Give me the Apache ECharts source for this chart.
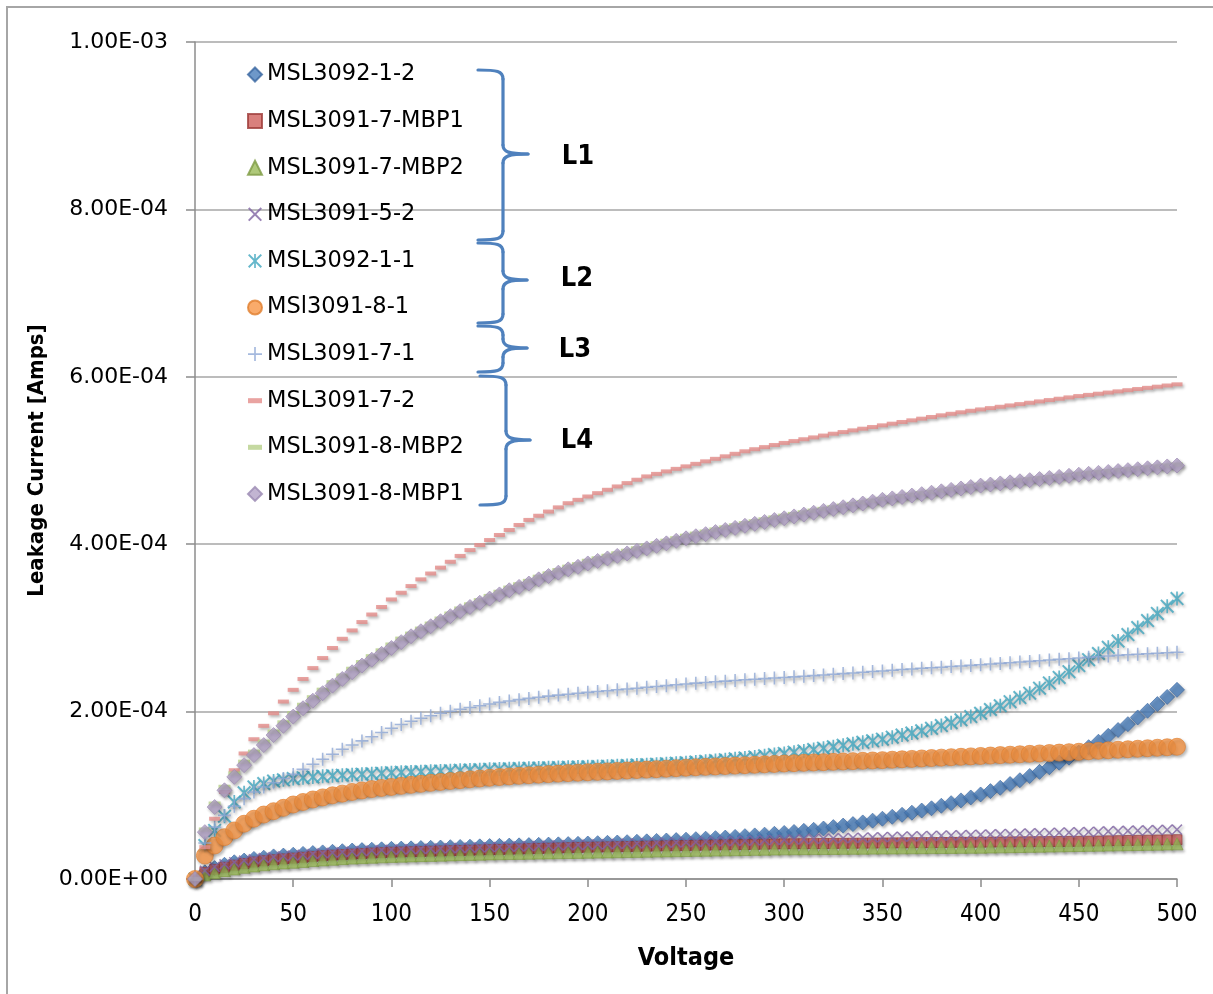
<!DOCTYPE html>
<html><head><meta charset="utf-8">
<script src="https://cdn.jsdelivr.net/npm/echarts@6/dist/echarts.min.js"></script>
<style>html,body{margin:0;padding:0;background:#fff}#c{width:1213px;height:994px}</style>
</head><body><div id="c"></div>
<script>
// Voltage (V)
const voltage = [0,5,10,15,20,25,30,35,40,45,50,55,60,65,70,75,80,85,90,95,100,
105,110,115,120,125,130,135,140,145,150,155,160,165,170,175,180,185,190,195,200,
205,210,215,220,225,230,235,240,245,250,255,260,265,270,275,280,285,290,295,300,
305,310,315,320,325,330,335,340,345,350,355,360,365,370,375,380,385,390,395,400,
405,410,415,420,425,430,435,440,445,450,455,460,465,470,475,480,485,490,495,500];

// Leakage current values in microamps (uA)
const msl3092_1_2 = [0,8,13,17,20,22,24,25.5,27,28,29,30,31,31.8,32.5,33.2,34,34.5,35,35.5,36,
36.3,36.6,37,37.3,37.6,38,38.3,38.6,39,39.3,
39.6,39.9,40.2,40.5,40.8,41.1,41.4,41.7,42,42.4,
42.8,43.2,43.6,44,44.5,45,45.5,46,46.5,47,
47.6,48.2,48.8,49.5,50.3,51.2,52.1,53,54,55,
56.2,57.5,58.8,60.3,62,63.8,65.6,67.6,69.7,72,
74.3,76.7,79.2,81.8,84.5,87.5,90.6,93.9,97.4,101,
105,109,113.5,118,123,128,133.5,139,145,151,
157.5,164,171,178,185,193,201,209,217.5,226];

const msl3091_7_mbp1 = [0,8,11.5,14,16.5,18.5,20.3,21.8,23,24,25,26,27,27.8,28.5,29.2,29.8,30.4,31,31.5,32,
32.3,32.6,32.9,33.2,33.5,33.8,34.1,34.4,34.7,35,
35.3,35.6,35.9,36.2,36.5,36.8,37.1,37.4,37.7,38,
38.2,38.4,38.6,38.8,39,39.2,39.4,39.6,39.8,40,
40.2,40.4,40.6,40.8,41,41.2,41.4,41.6,41.8,42,
42.1,42.2,42.3,42.4,42.5,42.6,42.7,42.8,42.9,43,
43.1,43.2,43.3,43.4,43.5,43.6,43.7,43.8,43.9,44,
44.1,44.2,44.3,44.4,44.5,44.6,44.7,44.8,44.9,45,
45.2,45.4,45.6,45.8,46,46.2,46.4,46.6,46.8,47];

const msl3091_7_mbp2 = [0,5,7.5,10,12,14,15.6,17,18.2,19.2,20,21,22,22.8,23.6,24.3,25,25.5,26,26.5,27,
27.3,27.6,27.9,28.2,28.5,28.8,29.1,29.4,29.7,30,
30.2,30.4,30.6,30.8,31,31.2,31.4,31.6,31.8,32,
32.2,32.4,32.6,32.8,33,33.2,33.4,33.6,33.8,34,
34.2,34.4,34.6,34.8,35,35.2,35.4,35.6,35.8,36,
36.1,36.2,36.3,36.4,36.5,36.6,36.7,36.8,36.9,37,
37.1,37.2,37.3,37.4,37.5,37.6,37.7,37.8,37.9,38,
38.2,38.4,38.6,38.8,39,39.2,39.4,39.6,39.8,40,
40.2,40.4,40.6,40.8,41,41.2,41.4,41.6,41.8,42];

const msl3091_5_2 = [0,10,14.5,17.5,20,22,23.7,25,26.2,27.2,28,29,29.9,30.7,31.4,32.1,32.8,33.4,34,34.5,35,
35.3,35.6,35.9,36.2,36.5,36.8,37.1,37.4,37.7,38,
38.3,38.6,38.9,39.2,39.5,39.8,40.1,40.4,40.7,41,
41.3,41.6,41.9,42.2,42.5,42.8,43.1,43.4,43.7,44,
44.3,44.6,44.9,45.2,45.5,45.8,46.1,46.4,46.7,47,
47.3,47.6,47.9,48.2,48.5,48.8,49.1,49.4,49.7,50,
50.3,50.6,50.9,51.2,51.5,51.8,52.1,52.4,52.7,53,
53.3,53.6,53.9,54.2,54.5,54.8,55.1,55.4,55.7,56,
56.3,56.6,56.9,57.2,57.5,57.8,58.1,58.4,58.7,59];

const msl3092_1_1 = [0,40,58,75,92,103,110,114,117,118.5,120,121,122,122.7,123.4,124,124.6,125.2,125.8,126.4,127,
127.4,127.8,128.2,128.6,129,129.4,129.8,130.2,130.6,131,
131.3,131.6,131.9,132.2,132.5,132.8,133.1,133.4,133.7,134,
134.4,134.8,135.2,135.6,136.1,136.6,137.2,137.8,138.4,139,
139.8,140.7,141.6,142.6,143.6,144.7,145.9,147.2,148.6,150,
151.5,153,154.6,156.3,158,159.7,161.5,163.3,165.1,167,
169.4,171.9,174.4,177.1,180,183.3,186.7,190.2,194,198,
202.5,207,211.8,216.8,222,228,234.3,240.8,247.7,255,
262,269.4,276.8,284.3,292,300.4,308.8,317.3,326,335];

const msl3091_8_1 = [0,28,40,50,58,66,72,77,81,85,89,92,95,97.5,100,102,104,105.8,107.4,108.8,110,
111.3,112.5,113.7,114.9,116,117.1,118.1,119.1,120.1,121,
121.8,122.6,123.3,124,124.7,125.3,125.9,126.5,127,127.5,
128,128.5,129.1,129.6,130.2,130.7,131.2,131.8,132.4,133,
133.5,134,134.5,135,135.5,136,136.5,137,137.5,138,
138.4,138.8,139.2,139.6,140,140.4,140.8,141.2,141.6,142,
142.5,143,143.5,144,144.5,145,145.5,146,146.5,147,
147.5,148,148.5,149,149.5,150,150.5,151,151.5,152,
152.6,153.2,153.8,154.4,155,155.6,156.2,156.8,157.4,158];

const msl3091_7_1 = [0,43,62,76,87,96,104,110,115,120,125,131,137,143,149,155,160,165,170,175,180,
184.5,188.5,192,195,198,200.5,202.8,205,207,209,
211,212.7,214.3,215.8,217.2,218.5,219.7,220.8,221.9,223,
224,225,226,227,228,229,230,231,232,233,
234,234.8,235.6,236.4,237.2,238,238.7,239.4,240.1,240.8,
241.5,242.2,243,243.8,244.6,245.4,246.2,247,247.8,248.6,
249.4,250.2,251,251.7,252.4,253.1,253.8,254.5,255.2,256,
256.8,257.6,258.4,259.2,260,260.8,261.6,262.4,263.2,264,
264.8,265.6,266.4,267.2,268,268.6,269.2,269.8,270.4,271];

const msl3091_7_2 = [0,38,72,104,130,150,167,183,198,212,226,239,252,264,276,287,297,307,316,325,334,
342,350,358,365,372,379,386,393,399,405,
411,417,423,429,434,439,444,449,453,457,
461,465,469,473,477,481,484,487,490,493,
496,499,502,505,508,511,513.5,516,518.5,521,
523.2,525.4,527.6,529.8,532,534,536,538,540,542,
544,546,548,550,552,554,555.8,557.6,559.4,561,
562.6,564.2,565.8,567.4,569,570.6,572.2,573.8,575.4,577,
578.4,579.8,581.2,582.6,584,585.4,586.8,588.2,589.6,591];

const msl3091_8_mbp2 = [0,59,90,110,126,140,152,164,176,187,198,208,217,226,235,243,251,259,266,273,280,
287,293,299,305,311,317,323,328,333,338,
343,348,352,356,361,365,369,373,376,380,
383,386,389,392,395,398,401,404,407,410,
412.5,415,417.5,420,422.5,425,427.3,429.6,431.9,434,
436,438,440,442,444,446,448,450,452,454,
455.7,457.4,459.1,460.8,462.5,464.2,465.9,467.6,469.3,471,
472.3,473.6,474.9,476.2,477.5,478.8,480.1,481.4,482.7,484,
485.1,486.2,487.3,488.4,489.5,490.6,491.7,492.8,493.9,495];

const msl3091_8_mbp1 = [0,56,86,106,122,136,148,160,172,183,194,204,213,222,231,239,247,255,262,269,276,
283,290,296,302,308,314,320,325,330,335,
340,345,349,353,358,362,366,370,373,377,
380,383,386,389,392,395,398,401,404,407,
409.5,412,414.5,417,419.5,422,424.3,426.6,428.9,431,
433.2,435.4,437.6,439.8,442,444.2,446.4,448.6,450.8,453,
454.7,456.4,458.1,459.8,461.5,463.2,464.9,466.6,468.3,470,
471.3,472.6,473.9,475.2,476.5,477.8,479.1,480.4,481.7,483,
484.1,485.2,486.3,487.4,488.5,489.6,490.7,491.8,492.9,494];

const seriesNames = ['MSL3092-1-2','MSL3091-7-MBP1','MSL3091-7-MBP2','MSL3091-5-2','MSL3092-1-1',
  'MSl3091-8-1','MSL3091-7-1','MSL3091-7-2','MSL3091-8-MBP2','MSL3091-8-MBP1'];
const seriesValues = [msl3092_1_2, msl3091_7_mbp1, msl3091_7_mbp2, msl3091_5_2, msl3092_1_1,
  msl3091_8_1, msl3091_7_1, msl3091_7_2, msl3091_8_mbp2, msl3091_8_mbp1];
const groupLabels = ['L1','L2','L3','L4'];
const xAxisTitle = 'Voltage';
const yAxisTitle = 'Leakage Current [Amps]';

// marker styling
const X_PATH = 'path://M0,1L1,0L5,4L9,0L10,1L6,5L10,9L9,10L5,6L1,10L0,9L4,5Z';
const AST_PATH = 'path://M0,1L1,0L5,4L9,0L10,1L6,5L10,9L9,10L5,6L1,10L0,9L4,5Z M4.4,0L5.6,0L5.6,4L4.4,4Z M4.4,6L5.6,6L5.6,10L4.4,10Z';
const PLUS_PATH = 'path://M4.4,0L5.6,0L5.6,4.4L10,4.4L10,5.6L5.6,5.6L5.6,10L4.4,10L4.4,5.6L0,5.6L0,4.4L4.4,4.4Z';
const DASH_PATH = 'path://M0,0M0,3.2L10,3.2L10,6.8L0,6.8Z M10,10';
const styles = [
  {symbol:'diamond', size:15, color:'#4A7EBB', border:'#3A67A0'},
  {symbol:'rect', size:10, color:'#D0605C', border:'#9E3B38'},
  {symbol:'triangle', size:12, color:'#9BBB59', border:'#7E9B44'},
  {symbol:X_PATH, size:11, color:'#8064A2', border:null},
  {symbol:AST_PATH, size:14, color:'#3FA5BE', border:null},
  {symbol:'circle', size:17, color:'#F79646', border:'#E07E2E'},
  {symbol:PLUS_PATH, size:13, color:'#8EA8D6', border:null},
  {symbol:DASH_PATH, size:11, color:'#E38C89', border:null},
  {symbol:DASH_PATH, size:12, color:'#B7D08A', border:null},
  {symbol:'diamond', size:15, color:'#B3A2C7', border:'#9A88B2'}
];

function sci(v){
  const a = v * 1e-6;
  if (Math.abs(a) < 1e-15) return '0.00E+00';
  const s = a.toExponential(2);
  const parts = s.split('e');
  const sign = parts[1][0] === '-' ? '-' : '+';
  let d = parts[1].replace(/[+-]/,'');
  if (d.length < 2) d = '0' + d;
  return parts[0] + 'E' + sign + d;
}

const series = seriesNames.map((name, i) => ({
  name: name,
  type: 'scatter',
  data: voltage.map((v, k) => [v, seriesValues[i][k]]),
  symbol: styles[i].symbol,
  symbolSize: styles[i].size,
  itemStyle: {
    color: styles[i].color,
    borderColor: styles[i].border || styles[i].color,
    borderWidth: styles[i].border ? 0.8 : 0,
    shadowBlur: 3,
    shadowColor: 'rgba(0,0,0,0.35)',
    shadowOffsetX: 1.5,
    shadowOffsetY: 2
  },
  emphasis: {disabled: true},
  z: 2 + i
}));

// curly brace annotations built from bezier curves and lines
const braceStyle = {fill:null, stroke:'#4F81BD', lineWidth:3.2, lineCap:'round'};
function braceParts(tipX, spineX, pointX, yTop, yMid, yBot){
  const r = 9;
  return [
    {type:'bezierCurve', shape:{x1:tipX, y1:yTop, cpx1:spineX-6, cpy1:yTop, cpx2:spineX, cpy2:yTop+1, x2:spineX, y2:yTop+r}, style:braceStyle, z:50},
    {type:'line', shape:{x1:spineX, y1:yTop+r, x2:spineX, y2:yMid-r}, style:braceStyle, z:50},
    {type:'bezierCurve', shape:{x1:spineX, y1:yMid-r, cpx1:spineX, cpy1:yMid-2, cpx2:spineX+6, cpy2:yMid, x2:pointX, y2:yMid}, style:braceStyle, z:50},
    {type:'bezierCurve', shape:{x1:pointX, y1:yMid, cpx1:spineX+6, cpy1:yMid, cpx2:spineX, cpy2:yMid+2, x2:spineX, y2:yMid+r}, style:braceStyle, z:50},
    {type:'line', shape:{x1:spineX, y1:yMid+r, x2:spineX, y2:yBot-r}, style:braceStyle, z:50},
    {type:'bezierCurve', shape:{x1:spineX, y1:yBot-r, cpx1:spineX, cpy1:yBot-1, cpx2:spineX-6, cpy2:yBot, x2:tipX, y2:yBot}, style:braceStyle, z:50}
  ];
}
const braceDefs = [
  [478, 503, 528, 70, 154, 240],
  [478, 503, 527, 243, 280, 323],
  [478, 503, 527, 326, 348, 372],
  [480, 506, 530, 376, 440, 505]
];
const labelPos = [[578,157],[577,279],[575,350],[577,441]];

const graphics = [
  {type:'rect', shape:{x:7, y:7, width:1240, height:1020}, style:{fill:null, stroke:'#A6A6A6', lineWidth:2}, z:0, silent:true}
];
braceDefs.forEach((b, i) => {
  braceParts(b[0],b[1],b[2],b[3],b[4],b[5]).forEach(p => graphics.push(p));
  graphics.push({type:'text', x: labelPos[i][0], y: labelPos[i][1],
    style:{text: groupLabels[i], fill:'#000', font:'bold 27px "DejaVu Sans Condensed","Liberation Sans",sans-serif',
      textAlign:'center', textVerticalAlign:'middle'}, z:50});
});

const COND = '"DejaVu Sans Condensed","Liberation Sans",sans-serif';
const chart = echarts.init(document.getElementById('c'), null, {renderer:'canvas'});
chart.setOption({
  animation: false,
  backgroundColor: '#fff',
  grid: {left:195, right:36, top:42, bottom:115, containLabel:false, outerBoundsMode:'none'},
  legend: {
    orient: 'vertical', left: 242, top: 58,
    itemWidth: 14, itemHeight: 14, itemGap: 23.6,
    data: seriesNames.map((n, i) => ({name: n, icon: styles[i].symbol})),
    textStyle: {fontFamily:'DejaVu Sans', fontSize:22.5, color:'#000', lineHeight:22},
    selectedMode: false
  },
  xAxis: {
    type: 'value', min: 0, max: 500, interval: 50,
    name: xAxisTitle, nameLocation: 'middle', nameGap: 67,
    nameTextStyle: {fontFamily:COND, fontWeight:'bold', fontSize:25, color:'#000'},
    axisLine: {show:true, onZero:false, lineStyle:{color:'#8C8C8C', width:1.5}},
    axisTick: {show:true, length:8, lineStyle:{color:'#8C8C8C', width:1.5}},
    axisLabel: {margin:24, fontFamily:COND, fontSize:24, color:'#000'},
    splitLine: {show:false}
  },
  yAxis: {
    type: 'value', min: 0, max: 1000, interval: 200,
    name: yAxisTitle, nameLocation: 'middle', nameGap: 130,
    nameTextStyle: {fontFamily:COND, fontWeight:'bold', fontSize:22, color:'#000'},
    axisLine: {show:true, lineStyle:{color:'#8C8C8C', width:1.5}},
    axisTick: {show:true, length:9, lineStyle:{color:'#8C8C8C', width:1.5}},
    axisLabel: {margin:27, fontFamily:'DejaVu Sans', fontSize:22, color:'#000', formatter: sci},
    splitLine: {show:true, lineStyle:{color:'#A6A6A6', width:1.5}}
  },
  series: series,
  graphic: graphics
});
</script>
</body></html>
